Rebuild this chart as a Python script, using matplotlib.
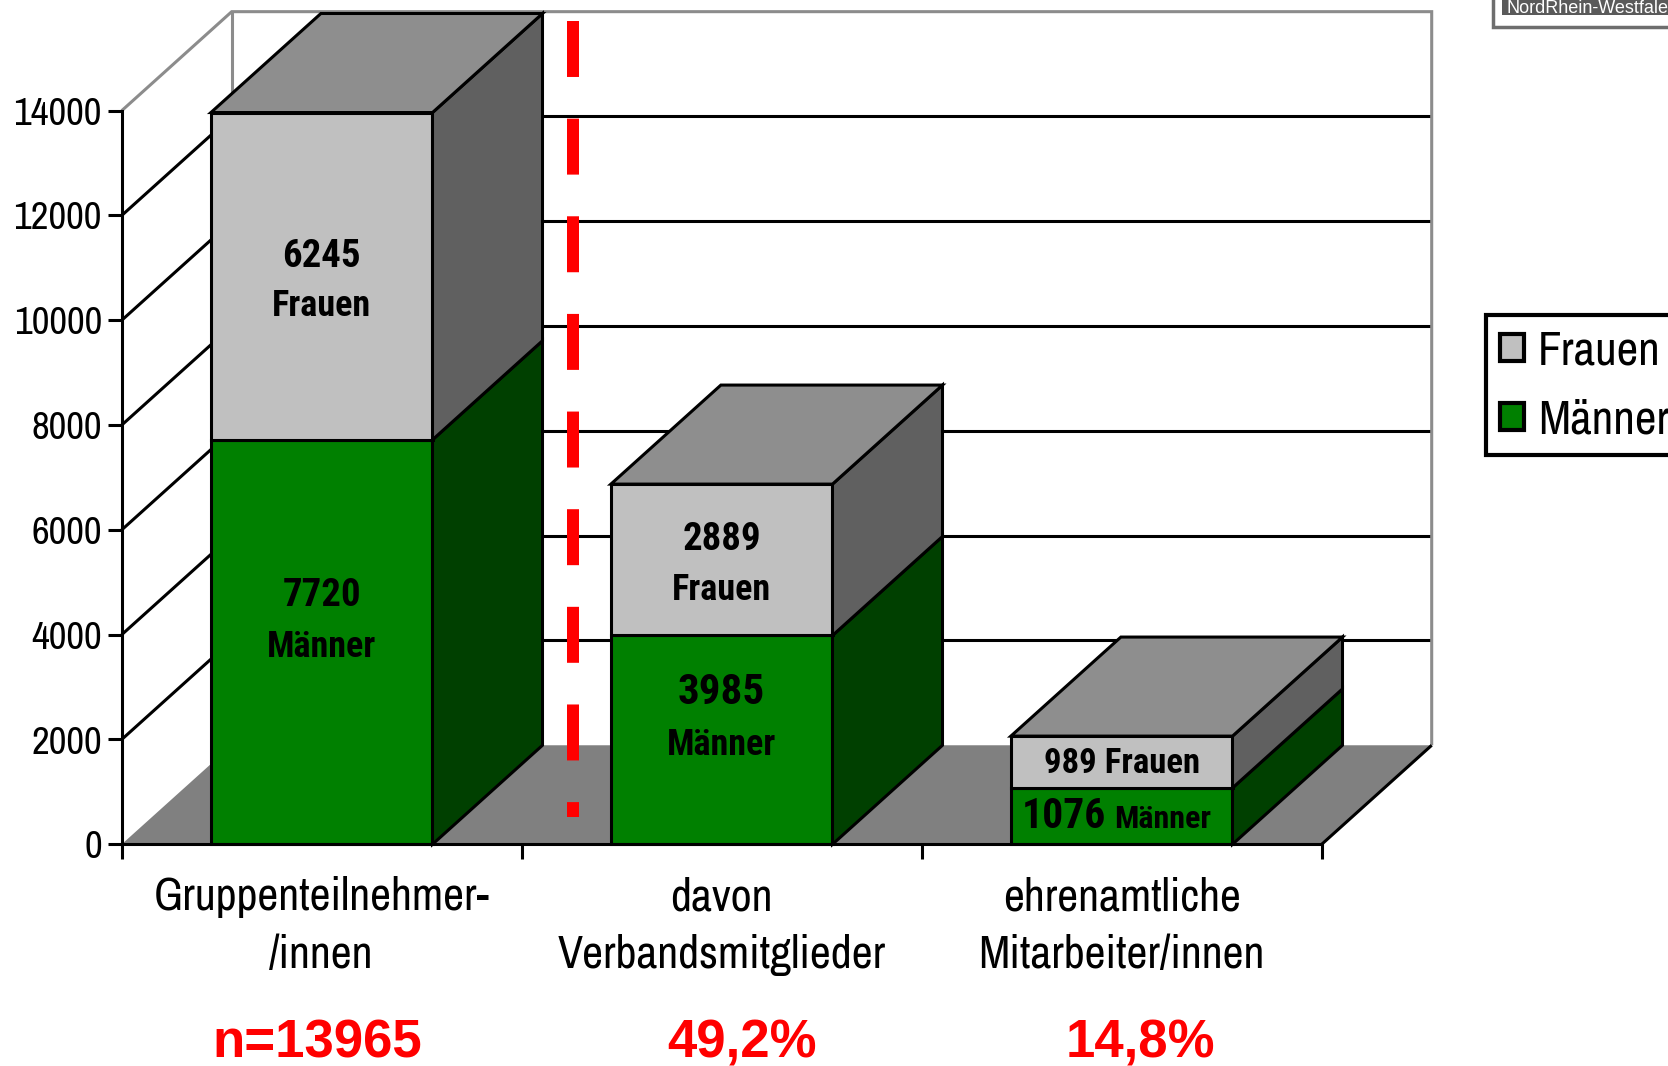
import matplotlib

matplotlib.use("Agg")
import matplotlib.pyplot as plt
from matplotlib import font_manager
from matplotlib.font_manager import FontProperties
from matplotlib.patches import Patch, Polygon, Rectangle

# --- data ---
categories = ["Gruppenteilnehmer-\n/innen", "davon\nVerbandsmitglieder",
              "ehrenamtliche\nMitarbeiter/innen"]
maenner = [7720, 3985, 1076]
frauen = [6245, 2889, 989]
shares = ["n=13965", "49,2%", "14,8%"]
yticks = [0, 2000, 4000, 6000, 8000, 10000, 12000, 14000]

# --- palette ---
GREEN = "#008000"
GREEN_SIDE = "#004000"
GREY_FRONT = "#c0c0c0"
GREY_TOP = "#8e8e8e"
GREY_SIDE = "#606060"
FLOOR = "#808080"
WALL_EDGE = "#8c8c8c"
RED = "#ff0000"

# narrow sans (the original uses Arial Narrow), regular and bold
PREFS = ["Liberation Sans Narrow", "Arial Narrow", "Archivo Narrow", "Roboto Condensed",
         "Barlow Semi Condensed", "Asap Condensed", "Encode Sans Semi Condensed",
         "Encode Sans Condensed", "Cabin Condensed"]


def _wt(w):
    return w if isinstance(w, int) else font_manager.weight_dict.get(w, 400)


_fonts = font_manager.fontManager.ttflist
_names = {f.name for f in _fonts}
_bold = {f.name for f in _fonts if _wt(f.weight) >= 600}
NARROW = [next((n for n in PREFS if n in _names), "Liberation Sans"),
          "Liberation Sans", "DejaVu Sans"]
NARROW_B = [next((n for n in PREFS if n in _bold), "Liberation Sans"),
            "Liberation Sans", "DejaVu Sans"]

W, H = 1668, 1066

fig = plt.figure(figsize=(W / 100, H / 100), dpi=100, facecolor="white")
# axes = front plane of the 3-D box
ax = fig.add_axes([121.7 / W, 221.7 / H, 1200 / W, 733.6 / H])
ax.set_xlim(-0.5, 2.5)
ax.set_ylim(0, 14000)
ax.patch.set_visible(False)

DX, DY = 0.275, 1890          # depth offset (categories, value units)
HALF = 0.277                   # half bar width
LW = 2.2
line_kw = dict(lw=LW, clip_on=False, solid_capstyle="butt")

# floor
ax.add_patch(Polygon([(-0.5, 0), (2.5, 0), (2.5 + DX, DY), (-0.5 + DX, DY)],
                     closed=True, fc=FLOOR, ec="none", zorder=1, clip_on=False))
ax.plot([2.5, 2.5 + DX], [0, DY], color="black", zorder=1.5, **line_kw)

# walls: grid lines on back wall and diagonals on left wall
for v in yticks[1:-1]:
    ax.plot([-0.5 + DX, 2.5 + DX], [v + DY, v + DY], color="black", zorder=1.2, **line_kw)
    ax.plot([-0.5, -0.5 + DX], [v, v + DY], color="black", zorder=1.2, **line_kw)
top = yticks[-1]
ax.plot([-0.5, -0.5 + DX, 2.5 + DX, 2.5 + DX], [top, top + DY, top + DY, DY],
        color=WALL_EDGE, zorder=1.2, solid_joinstyle="miter", **line_kw)
ax.plot([-0.5 + DX, -0.5 + DX], [DY, top + DY], color=WALL_EDGE, zorder=1.1, **line_kw)


def box(c, y0, y1, front, side, with_top):
    kw = dict(closed=True, ec="black", lw=LW, joinstyle="miter", zorder=3,
              clip_on=False)
    ax.add_patch(Polygon([(c - HALF, y0), (c + HALF, y0), (c + HALF, y1),
                          (c - HALF, y1)], fc=front, **kw))
    ax.add_patch(Polygon([(c + HALF, y0), (c + HALF + DX, y0 + DY),
                          (c + HALF + DX, y1 + DY), (c + HALF, y1)], fc=side, **kw))
    if with_top:
        ax.add_patch(Polygon([(c - HALF, y1), (c + HALF, y1),
                              (c + HALF + DX, y1 + DY), (c - HALF + DX, y1 + DY)],
                             fc=GREY_TOP, **kw))


for i, (m, f) in enumerate(zip(maenner, frauen)):
    box(i, 0, m, GREEN, GREEN_SIDE, False)
    box(i, m, m + f, GREY_FRONT, GREY_SIDE, True)

# value labels inside the bars
txt = dict(ha="center", va="baseline", fontweight="bold", family=NARROW_B,
           color="black", zorder=5)
num_size = [28, 31]
for i in range(2):
    fm = maenner[i] + frauen[i] / 2
    ax.text(i, fm + 180, str(frauen[i]), fontsize=28, **txt)
    ax.text(i, fm - 765, "Frauen", fontsize=26, **txt)
    mm = maenner[i] / 2
    ax.text(i, mm + 690, str(maenner[i]), fontsize=num_size[i], **txt)
    ax.text(i, mm - 280, "Männer", fontsize=26, **txt)
ax.text(2, maenner[2] + frauen[2] / 2 - 215, f"{frauen[2]} Frauen", fontsize=25, **txt)
txt.pop("ha")
ax.text(2 - 0.04, maenner[2] / 2 - 227, str(maenner[2]), fontsize=30, ha="right", **txt)
ax.text(2 - 0.018, maenner[2] / 2 - 227, "Männer", fontsize=23, ha="left", **txt)

# red dashed separator
ax.plot([0.628, 0.628], [15712, 521], color=RED, lw=8.64, solid_capstyle="butt",
        dash_capstyle="butt", dashes=(40.3 / 8.64, 30.0 / 8.64), zorder=6,
        clip_on=False)

# axes chrome
for s in ("top", "right"):
    ax.spines[s].set_visible(False)
for s in ("left", "bottom"):
    ax.spines[s].set_linewidth(LW)
    ax.spines[s].set_zorder(4)
ax.set_yticks(yticks)
ax.set_yticklabels([str(t) for t in yticks], family=NARROW, fontsize=28)
ax.tick_params(axis="y", direction="out", length=10, width=LW, pad=4.3)
ax.set_xticks([-0.5, 0.5, 1.5, 2.5])
ax.set_xticklabels([])
ax.tick_params(axis="x", direction="out", length=11, width=LW)

xt = ax.get_xaxis_transform()
for i, cat in enumerate(categories):
    for line, yb in zip(cat.split("\n"), [-0.0896, -0.1686]):
        ax.text(i, yb, line, transform=xt, ha="center", va="baseline",
                family=NARROW, fontsize=33, clip_on=False)
share_dx = [-0.012, 0.05, 0.046]
for i, s in enumerate(shares):
    ax.text(i + share_dx[i], -0.290, s, transform=xt, ha="center", va="baseline",
            family=["Liberation Sans", "DejaVu Sans"], fontsize=38,
            fontweight="bold", color=RED, clip_on=False)

# legend (cut off at right edge as in the original)
handles = [Patch(fc=GREY_FRONT, ec="black", lw=3), Patch(fc=GREEN, ec="black", lw=3)]
leg = fig.legend(handles, ["Frauen", "Männer"], loc="upper left",
                 bbox_to_anchor=(1486 / W, 1 - 315 / H), frameon=True,
                 fancybox=False, edgecolor="black", framealpha=1,
                 borderaxespad=0, handlelength=0.5, handleheight=0.5,
                 handletextpad=0.3, labelspacing=0.55, borderpad=0.3,
                 prop=FontProperties(family=NARROW, size=34))
leg.get_frame().set_linewidth(3)

# badge in the top-right corner
fig.add_artist(Rectangle((1493 / W, 1 - 27 / H), 300 / W, 60 / H,
                         transform=fig.transFigure, fc="white", ec="#6e6e6e", lw=2.5))
fig.add_artist(Rectangle((1502 / W, 1 - 15 / H), 300 / W, 40 / H,
                         transform=fig.transFigure, fc="#5a5a5a", ec="none"))
fig.text(1507 / W, 1 - 13 / H, "NordRhein-Westfalen", color="white", fontsize=13,
         family=["Liberation Sans", "DejaVu Sans"], ha="left", va="baseline")

fig.savefig("out.png", dpi=100, facecolor="white")
